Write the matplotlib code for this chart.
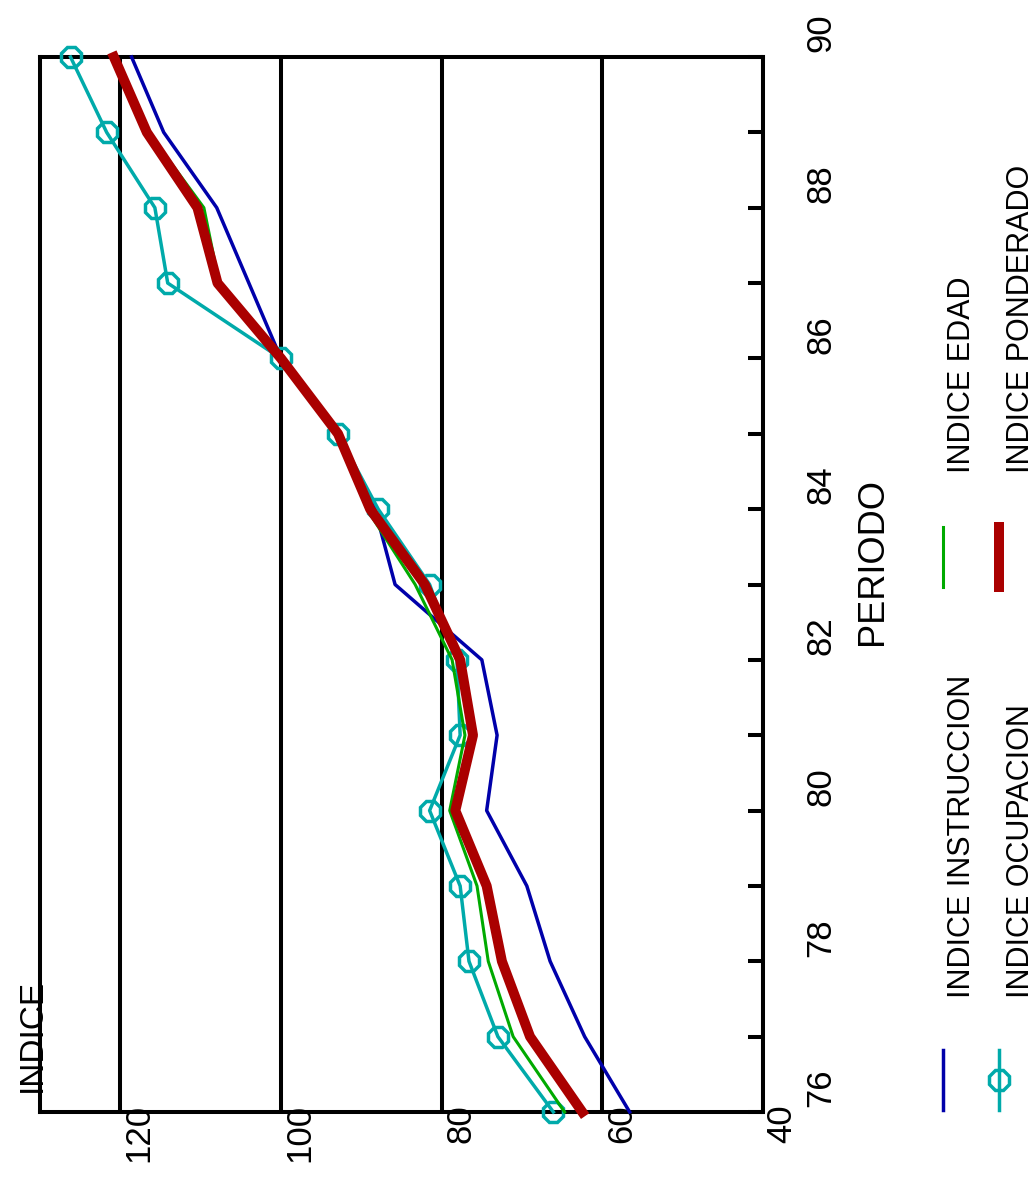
import matplotlib.pyplot as plt
from matplotlib.lines import Line2D
from matplotlib.transforms import ScaledTranslation

plt.rcParams['font.family'] = ['Liberation Sans', 'DejaVu Sans']

# Datos (indice base 86 = 100)
periodo = [76, 77, 78, 79, 80, 81, 82, 83, 84, 85, 86, 87, 88, 89, 90]
ind_instruccion = [56.6, 62.2, 66.5, 69.4, 74.4, 73.1, 75.0, 85.8, 88.3, 92.9, 100.0, 104.0, 108.0, 114.6, 118.6]
ind_ocupacion = [66.1, 73.0, 76.6, 77.7, 81.5, 77.7, 78.1, 81.5, 87.9, 92.9, 100.0, 114.1, 115.7, 121.7, 126.2]
ind_edad = [64.7, 71.1, 74.2, 75.6, 79.0, 77.1, 78.7, 83.3, 89.3, 92.9, 100.0, 107.7, 109.6, 116.5, 121.0]
ind_ponderado = [62.5, 69.0, 72.5, 74.4, 78.3, 76.1, 77.7, 82.1, 88.9, 92.9, 100.0, 107.9, 110.4, 116.7, 120.8]

indice_ticks = [40, 60, 80, 100, 120]
periodo_ticks = [76, 78, 80, 82, 84, 86, 88, 90]

AZUL, CIAN, VERDE, ROJO = '#0000aa', '#00aaaa', '#00aa00', '#aa0000'

W, H = 1034, 1181
fig = plt.figure(figsize=(W / 100, H / 100), dpi=100)
# the whole chart is drawn turned a quarter turn (text reads bottom to top)
ax = fig.add_axes([40 / W, 1 - 1112 / H, 723 / W, 1055 / H])

estilos = {
    'INDICE INSTRUCCION': dict(color=AZUL, lw=2.5),
    'INDICE OCUPACION': dict(color=CIAN, lw=2.5, marker='8', ms=15, mfc='none', mew=2.5),
    'INDICE EDAD': dict(color=VERDE, lw=2.2),
    'INDICE PONDERADO': dict(color=ROJO, lw=7.2),
}
series = {
    'INDICE INSTRUCCION': ind_instruccion,
    'INDICE OCUPACION': ind_ocupacion,
    'INDICE EDAD': ind_edad,
    'INDICE PONDERADO': ind_ponderado,
}
for nombre, vals in series.items():
    ax.plot(vals, periodo, clip_on=False, zorder=3, **estilos[nombre])

ax.set_xlim(130, 40)
ax.set_ylim(76, 90)
ax.set_xticks(indice_ticks)
ax.set_yticks(periodo_ticks)
ax.set_yticks(periodo, minor=True)
ax.grid(axis='x', color='black', lw=2.9)
for sp in ax.spines.values():
    sp.set_linewidth(2.9)

ax.tick_params(axis='x', length=0, pad=0, labelsize=25, labelrotation=90)
ax.tick_params(axis='y', which='both', direction='in', length=11, width=2.9,
               left=False, right=True, labelleft=False, labelright=True,
               pad=30, labelsize=25, labelrotation=90)

for lbl in ax.get_xticklabels():
    lbl.set_transform(lbl.get_transform() + ScaledTranslation(0.19, 0.08, fig.dpi_scale_trans))
for lbl in ax.get_yticklabels():
    lbl.set_va('center')
    lbl.set_transform(lbl.get_transform() + ScaledTranslation(0, 0.24, fig.dpi_scale_trans))

ax.set_xlabel('INDICE', fontsize=24, rotation=90)
ax.xaxis.set_label_coords(-0.011, 0.019)
ax.xaxis.label.set(ha='center', va='bottom')

ax.set_ylabel('PERIODO', fontsize=26, rotation=90)
ax.yaxis.set_label_position('right')
ax.yaxis.set_label_coords(1.152, 0.522)
ax.yaxis.label.set(ha='center', va='center', rotation_mode='default')

# legend drawn by hand, turned like the rest
pos_leyenda = [
    ('INDICE INSTRUCCION', 943, 1050, 1110, 962, 998),
    ('INDICE OCUPACION', 999, 1050, 1110, 1021, 998),
    ('INDICE EDAD', 943, 527, 587, 962, 473),
    ('INDICE PONDERADO', 999, 527, 587, 1021, 473),
]
for nombre, hx, hy0, hy1, tx, ty in pos_leyenda:
    st = dict(estilos[nombre])
    mk = st.pop('marker', None)
    ms = st.pop('ms', None)
    mfc = st.pop('mfc', None)
    mew = st.pop('mew', None)
    fig.add_artist(Line2D([hx / W, hx / W], [1 - hy0 / H, 1 - hy1 / H],
                          transform=fig.transFigure, **st))
    if mk:
        fig.add_artist(Line2D([hx / W], [1 - (hy0 + hy1) / 2 / H], transform=fig.transFigure,
                              marker=mk, ms=ms, mfc=mfc, mew=mew, color=st['color'], lw=0))
    fig.text(tx / W, 1 - ty / H, nombre, rotation=90, ha='center', va='bottom', fontsize=22)

fig.savefig('out.png', dpi=100)
